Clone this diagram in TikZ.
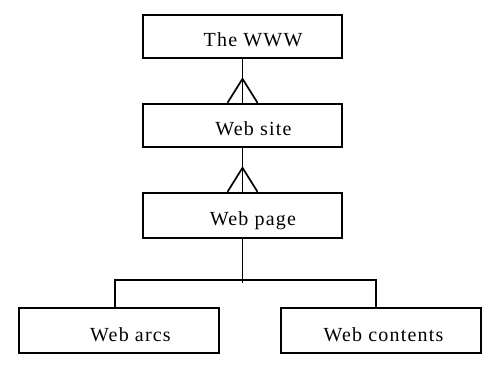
\documentclass[tikz,border=0pt]{standalone}
\usepackage{fontspec}
\setmainfont{Liberation Serif}[LetterSpace=6]
\begin{document}
\begin{tikzpicture}[x=1pt,y=-1pt,
  box/.style={draw,line width=2.4pt,minimum width=199pt,minimum height=43pt,inner sep=0pt},
  lbl/.style={anchor=base,inner sep=0pt,font=\fontsize{20pt}{23pt}\selectfont},
  conn/.style={line width=1.7pt}]
\useasboundingbox (0,0) rectangle (502,371);
\node[box] (www) at (242.5,36.5) {};
\node[box] (site) at (242.5,125.5) {};
\node[box,minimum height=45pt] (page) at (242.5,215.5) {};
\node[box,minimum width=200pt,minimum height=45pt] (arcs) at (119,330.5) {};
\node[box,minimum width=200pt,minimum height=45pt] (cont) at (381,330.5) {};
\node[lbl] (twww) at (253,47) {The WWW};
\node[lbl] (tsite) at (253.5,136) {Web site};
\node[lbl] (tpage) at (253,225) {Web page};
\node[lbl] (tarcs) at (130.5,341) {Web arcs};
\node[lbl] (tcont) at (383.5,341) {Web contents};
% crow's feet
\draw[conn] (www.south) -- (site.north);
\draw[conn] ([xshift=-15pt]site.north) -- ([yshift=24pt]site.north) -- ([xshift=15pt]site.north);
\draw[conn] (site.south) -- (page.north);
\draw[conn] ([xshift=-15pt]page.north) -- ([yshift=24pt]page.north) -- ([xshift=15pt]page.north);
% tree
\coordinate (j) at (242.5,280);
\coordinate (jend) at (242.5,283);
\draw[conn] (page.south) -- (jend);
\draw[conn] ([xshift=-4pt]arcs.north) |- (j) -| ([xshift=-5pt]cont.north);
\end{tikzpicture}
\end{document}
